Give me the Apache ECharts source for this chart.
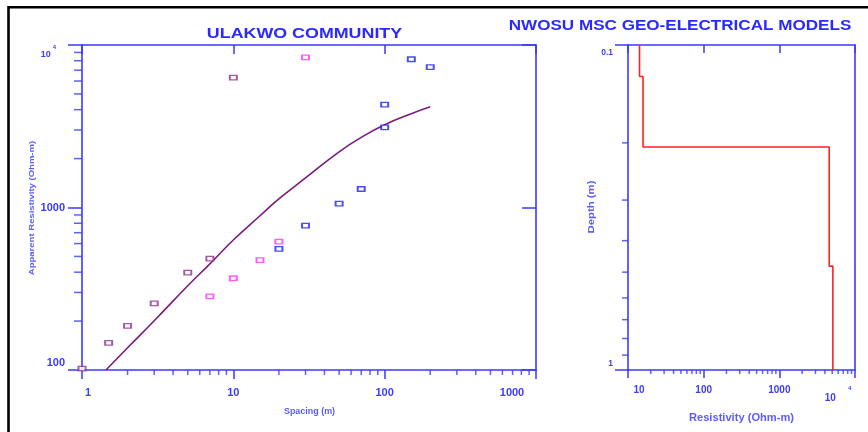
<!DOCTYPE html>
<html><head><meta charset="utf-8">
<script src="https://cdn.jsdelivr.net/npm/echarts@6/dist/echarts.min.js"></script>
<style>html,body{margin:0;padding:0;background:#fff}#c{width:868px;height:432px}</style>
</head><body><div id="c"></div>
<script>
// ---- field data (apparent resistivity vs spacing) ----
const spacingPurple = [1, 1.5, 2, 3, 5, 7, 10];
const rhoPurple     = [102, 147, 187, 257, 397, 484, 6300];
const spacingMagenta = [7, 10, 15, 20, 30];
const rhoMagenta     = [284, 367, 475, 617, 8400];
const spacingBlue = [20, 30, 50, 70, 100, 100, 150, 200];
const rhoBlue     = [557, 773, 1055, 1300, 3110, 4300, 8170, 7300];
// ---- model response curve ----
const curveSpacing = [1.44, 2, 3, 5, 7, 10, 15, 20, 30, 50, 70, 100, 150, 200];
const curveRho     = [100, 137, 201, 330, 450, 631, 890, 1130, 1520, 2200, 2700, 3230, 3780, 4170];
// ---- layered model ----
const layerRho    = [14.2, 15.8, 4560, 5100];
const layerBottom = [0.125, 0.206, 0.479];
const depthTop = 0.1, depthBase = 1;
// ---- tick labels ----
const leftXLabels  = ['1', '10', '100', '1000'];
const leftYLabels  = ['100', '1000', '10', '4'];
const rightXLabels = ['10', '100', '1000', '10', '4'];
const rightYLabels = ['0.1', '1'];
// ---- minor tick values ----
const leftXMinor  = [2,3,4,5,6,7,8,9,20,30,40,50,60,70,80,90,200,300,400,500,600,700,800,900];
const leftYMinor  = [200,300,400,500,600,700,800,900,2000,3000,4000,5000,6000,7000,8000,9000];
const rightXMinor = [20,30,40,50,60,70,80,90,200,300,400,500,600,700,800,900,2000,3000,4000,5000,6000,7000,8000,9000];
const rightYMinor = [0.2,0.3,0.4,0.5,0.6,0.7,0.8,0.9];

const AX = '#3a3aff', LBL = '#3c3cff', TTL = '#5c5cff';
const FF = 'Liberation Sans, Arial, sans-serif';
const pairs = (xs, ys) => xs.map((x, i) => [x, ys[i]]);
const lg = v => Math.round(Math.log10(v));

const modelData = [];
let layerTop = depthTop;
layerRho.forEach((r, i) => {
  const bot = i < layerBottom.length ? layerBottom[i] : depthBase;
  modelData.push([r, layerTop], [r, bot]);
  layerTop = bot;
});

function rs(size, pad, color) {
  return { fontSize: size, fontWeight: 'bold', fontFamily: FF, color: color || LBL, padding: pad };
}
const line = { show: true, lineStyle: { color: AX, width: 1.6 } };
function tickSeries(name, xs, ys, xi, yi, size, off) {
  return { type: 'scatter', name, xAxisIndex: xi, yAxisIndex: yi, data: pairs(xs, ys),
    symbol: 'rect', symbolSize: size, symbolOffset: off, clip: false, silent: true,
    itemStyle: { color: AX }, emphasis: { disabled: true }, z: 1 };
}
function markers(name, xs, ys, c) {
  return { type: 'scatter', name, xAxisIndex: 0, yAxisIndex: 0, data: pairs(xs, ys),
    symbol: 'rect', symbolSize: [7, 4.5], clip: false,
    itemStyle: { color: '#fff', borderColor: c, borderWidth: 1.6 }, z: 4 };
}

const option = {
  animation: false,
  backgroundColor: '#fff',
  grid: [
    { left: 82, top: 45, width: 454, height: 325, outerBoundsMode: 'none' },
    { left: 628, top: 45, width: 227, height: 325, outerBoundsMode: 'none' }
  ],
  xAxis: [
    { type: 'log', gridIndex: 0, min: 1, max: 1000, position: 'bottom', axisLine: line,
      axisTick: { show: true, inside: false, length: 9, lineStyle: { color: AX, width: 1.5 } },
      splitLine: { show: false }, showMinLabel: true, showMaxLabel: true,
      axisLabel: { margin: 17, fontSize: 11, fontWeight: 'bold', fontFamily: FF, color: LBL,
        formatter: v => { const k = lg(v); const t = leftXLabels[k];
          return k === 0 ? '{f|' + t + '}' : k === 3 ? '{l|' + t + '}' : '{m|' + t + '}'; },
        rich: { f: rs(11, [0, 0, 0, 12]), m: rs(11, [0, 0, 0, 0]), l: rs(11, [0, 48, 0, 0]) } } },
    { type: 'log', gridIndex: 0, min: 1, max: 1000, position: 'top', axisLine: line,
      axisTick: { show: true, inside: true, length: 9, lineStyle: { color: AX, width: 1.5 } },
      axisLabel: { show: false }, splitLine: { show: false } },
    { type: 'log', gridIndex: 1, min: 10, max: 10000, position: 'bottom', axisLine: line,
      axisTick: { show: true, inside: false, length: 8, lineStyle: { color: AX, width: 1.5 } },
      splitLine: { show: false }, showMinLabel: true, showMaxLabel: true,
      axisLabel: { margin: 15, fontSize: 10, fontWeight: 'bold', fontFamily: FF, color: LBL,
        formatter: v => { const k = lg(v) - 1;
          if (k === 0) return '{f|' + rightXLabels[0] + '}';
          if (k === 3) return '{b|' + rightXLabels[3] + '}{s|' + rightXLabels[4] + '}';
          return '{m|' + rightXLabels[k] + '}'; },
        rich: { f: rs(10, [0, 0, 0, 22]), m: rs(10, [0, 0, 0, 0]), b: rs(10, [6, 0, 0, 0]), s: rs(6, [0, 34, 14, 12]) } } },
    { type: 'log', gridIndex: 1, min: 10, max: 10000, position: 'top', axisLine: line,
      axisTick: { show: true, inside: true, length: 8, lineStyle: { color: AX, width: 1.5 } },
      axisLabel: { show: false }, splitLine: { show: false } }
  ],
  yAxis: [
    { type: 'log', gridIndex: 0, min: 100, max: 10000, position: 'left', axisLine: line,
      axisTick: { show: true, inside: false, length: 14, lineStyle: { color: AX, width: 1.5 } },
      splitLine: { show: false }, showMinLabel: true, showMaxLabel: true,
      axisLabel: { margin: 17, fontSize: 11, fontWeight: 'bold', fontFamily: FF, color: LBL,
        formatter: v => { const k = lg(v);
          if (k === 2) return '{lo|' + leftYLabels[0] + '}';
          if (k === 3) return '{md|' + leftYLabels[1] + '}';
          return '{hb|' + leftYLabels[2] + '}{hs|' + leftYLabels[3] + '}'; },
        rich: { lo: rs(11, [0, 0, 14, 0]), md: rs(11, [0, 0, 0, 0]), hb: rs(9, [20, 0, 0, 0]), hs: rs(6, [4, 9, 0, 2]) } } },
    { type: 'log', gridIndex: 0, min: 100, max: 10000, position: 'right', axisLine: line,
      axisTick: { show: true, inside: true, length: 14, lineStyle: { color: AX, width: 1.5 } },
      axisLabel: { show: false }, splitLine: { show: false } },
    { type: 'log', gridIndex: 1, min: depthTop, max: depthBase, inverse: true, position: 'left', axisLine: line,
      axisTick: { show: true, inside: false, length: 13, lineStyle: { color: AX, width: 1.5 } },
      splitLine: { show: false }, showMinLabel: true, showMaxLabel: true,
      axisLabel: { margin: 15, fontSize: 8.5, fontWeight: 'bold', fontFamily: FF, color: LBL,
        formatter: v => lg(v) === -1 ? '{a|' + rightYLabels[0] + '}' : '{b|' + rightYLabels[1] + '}',
        rich: { a: rs(8.5, [16, 0, 0, 0]), b: rs(8.5, [0, 0, 12, 0]) } } },
    { type: 'log', gridIndex: 1, min: depthTop, max: depthBase, inverse: true, position: 'right', axisLine: line,
      axisTick: { show: false }, axisLabel: { show: false }, splitLine: { show: false } }
  ],
  series: [
    tickSeries('xminorL', leftXMinor, leftXMinor.map(() => 100), 0, 0, [1.5, 5], [0, 2.5]),
    tickSeries('yminorL', leftYMinor.map(() => 1), leftYMinor, 0, 0, [8, 1.5], [-4, 0]),
    tickSeries('xminorR', rightXMinor, rightXMinor.map(() => depthBase), 2, 2, [1.5, 4], [0, 2]),
    tickSeries('yminorR', rightYMinor.map(() => 10), rightYMinor, 2, 2, [6, 1.5], [-3, 0]),
    { type: 'line', name: 'curve', xAxisIndex: 0, yAxisIndex: 0, data: pairs(curveSpacing, curveRho),
      smooth: 0.5, showSymbol: false, lineStyle: { color: '#7d1a7d', width: 1.6 }, z: 3, silent: true },
    markers('purple', spacingPurple, rhoPurple, '#8e2f8e'),
    markers('magenta', spacingMagenta, rhoMagenta, '#ff33ff'),
    markers('blue', spacingBlue, rhoBlue, '#1f1fff'),
    { type: 'line', name: 'model', xAxisIndex: 2, yAxisIndex: 2, data: modelData,
      showSymbol: false, lineStyle: { color: '#ff2222', width: 1.6 }, z: 3, silent: true }
  ],
  graphic: [
    { type: 'rect', z: -1, silent: true, shape: { x: 8.5, y: 7.2, width: 1200, height: 1200 },
      style: { fill: 'rgba(0,0,0,0)', stroke: '#000', lineWidth: 2.6 } },
    { type: 'text', x: 304.5, y: 34, scaleX: 1.19, silent: true,
      style: { text: 'ULAKWO COMMUNITY', font: 'bold 15px ' + FF, fill: '#2a2aff', align: 'center', verticalAlign: 'middle' } },
    { type: 'text', x: 680, y: 26, scaleX: 1.22, silent: true,
      style: { text: 'NWOSU MSC GEO-ELECTRICAL MODELS', font: 'bold 14px ' + FF, fill: '#2a2aff', align: 'center', verticalAlign: 'middle' } },
    { type: 'text', x: 309.5, y: 412, scaleX: 1.05, silent: true,
      style: { text: 'Spacing (m)', font: 'bold 8.5px ' + FF, fill: TTL, align: 'center', verticalAlign: 'middle' } },
    { type: 'text', x: 32, y: 208, rotation: Math.PI / 2, scaleX: 1.19, silent: true,
      style: { text: 'Apparent Resistivity (Ohm-m)', font: 'bold 8px ' + FF, fill: TTL, align: 'center', verticalAlign: 'middle' } },
    { type: 'text', x: 592, y: 207, rotation: Math.PI / 2, scaleX: 1.26, silent: true,
      style: { text: 'Depth (m)', font: 'bold 9px ' + FF, fill: TTL, align: 'center', verticalAlign: 'middle' } },
    { type: 'text', x: 741.5, y: 418.5, scaleX: 1.06, silent: true,
      style: { text: 'Resistivity (Ohm-m)', font: 'bold 10.5px ' + FF, fill: TTL, align: 'center', verticalAlign: 'middle' } }
  ]
};
const chart = echarts.init(document.getElementById('c'));
chart.setOption(option);
</script></body></html>
